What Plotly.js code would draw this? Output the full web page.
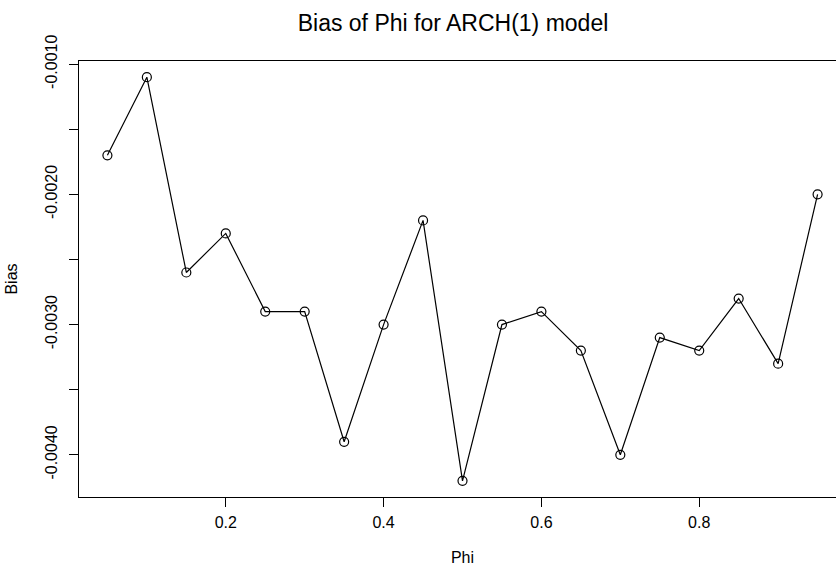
<!DOCTYPE html>
<html>
<head>
<meta charset="utf-8">
<script src="https://cdn.plot.ly/plotly-3.0.1.min.js"></script>
<style>
html, body { margin: 0; padding: 0; overflow: hidden; background: #fff; }
#chart { width: 860px; height: 568px; }
</style>
</head>
<body>
<div id="chart"></div>
<script>
// Data
const phi = [0.05, 0.10, 0.15, 0.20, 0.25, 0.30, 0.35, 0.40, 0.45, 0.50,
             0.55, 0.60, 0.65, 0.70, 0.75, 0.80, 0.85, 0.90, 0.95];
const bias = [-0.0017, -0.0011, -0.0026, -0.0023, -0.0029, -0.0029, -0.0039, -0.0030, -0.0022, -0.0042,
              -0.0030, -0.0029, -0.0032, -0.0040, -0.0031, -0.0032, -0.0028, -0.0033, -0.0020];
const xTickVals = [0.2, 0.4, 0.6, 0.8];
const xTickText = ["0.2", "0.4", "0.6", "0.8"];
const yTickVals = [-0.0010, -0.0015, -0.0020, -0.0025, -0.0030, -0.0035, -0.0040];
const yTickText = ["-0.0010", "", "-0.0020", "", "-0.0030", "", "-0.0040"];

const FONT = "Liberation Sans, Arial, Helvetica, sans-serif";

const trace = {
  x: phi,
  y: bias,
  type: "scatter",
  mode: "lines+markers",
  line: { color: "#000", width: 1.2 },
  marker: { symbol: "circle-open", size: 9, color: "#000", line: { color: "#000", width: 1.2 } },
  hoverinfo: "x+y",
  showlegend: false
};

const layout = {
  width: 860,
  height: 568,
  margin: { l: 79, r: 14, t: 61, b: 71 },
  paper_bgcolor: "#fff",
  plot_bgcolor: "#fff",
  font: { family: FONT, color: "#000", size: 16 },
  title: {
    text: "Bias of Phi for ARCH(1) model",
    font: { family: FONT, size: 23, color: "#000" },
    xref: "container",
    x: 453 / 860,
    xanchor: "center",
    yref: "container",
    y: 1 - 23 / 568,
    yanchor: "middle"
  },
  xaxis: {
    range: [0.014, 0.986],
    tickmode: "array",
    tickvals: xTickVals,
    ticktext: xTickText,
    ticks: "outside",
    ticklen: 9,
    tickwidth: 1,
    tickcolor: "#000",
    ticklabelstandoff: 2,
    showgrid: false,
    zeroline: false,
    showline: true,
    mirror: true,
    linecolor: "#000",
    linewidth: 1,
    tickfont: { family: FONT, size: 16, color: "#000" },
    title: { text: "Phi", font: { family: FONT, size: 16, color: "#000" }, standoff: 21 },
    automargin: false
  },
  yaxis: {
    range: [-0.004324, -0.000976],
    tickmode: "array",
    tickvals: yTickVals,
    ticktext: yTickText,
    tickangle: -90,
    ticks: "outside",
    ticklen: 9,
    tickwidth: 1,
    tickcolor: "#000",
    ticklabelstandoff: 6,
    showgrid: false,
    zeroline: false,
    showline: true,
    mirror: true,
    linecolor: "#000",
    linewidth: 1,
    tickfont: { family: FONT, size: 16, color: "#000" },
    title: { text: "Bias", font: { family: FONT, size: 16, color: "#000" }, standoff: 20 },
    automargin: false
  }
};

Plotly.newPlot("chart", [trace], layout, { displayModeBar: false, staticPlot: true });
</script>
</body>
</html>
